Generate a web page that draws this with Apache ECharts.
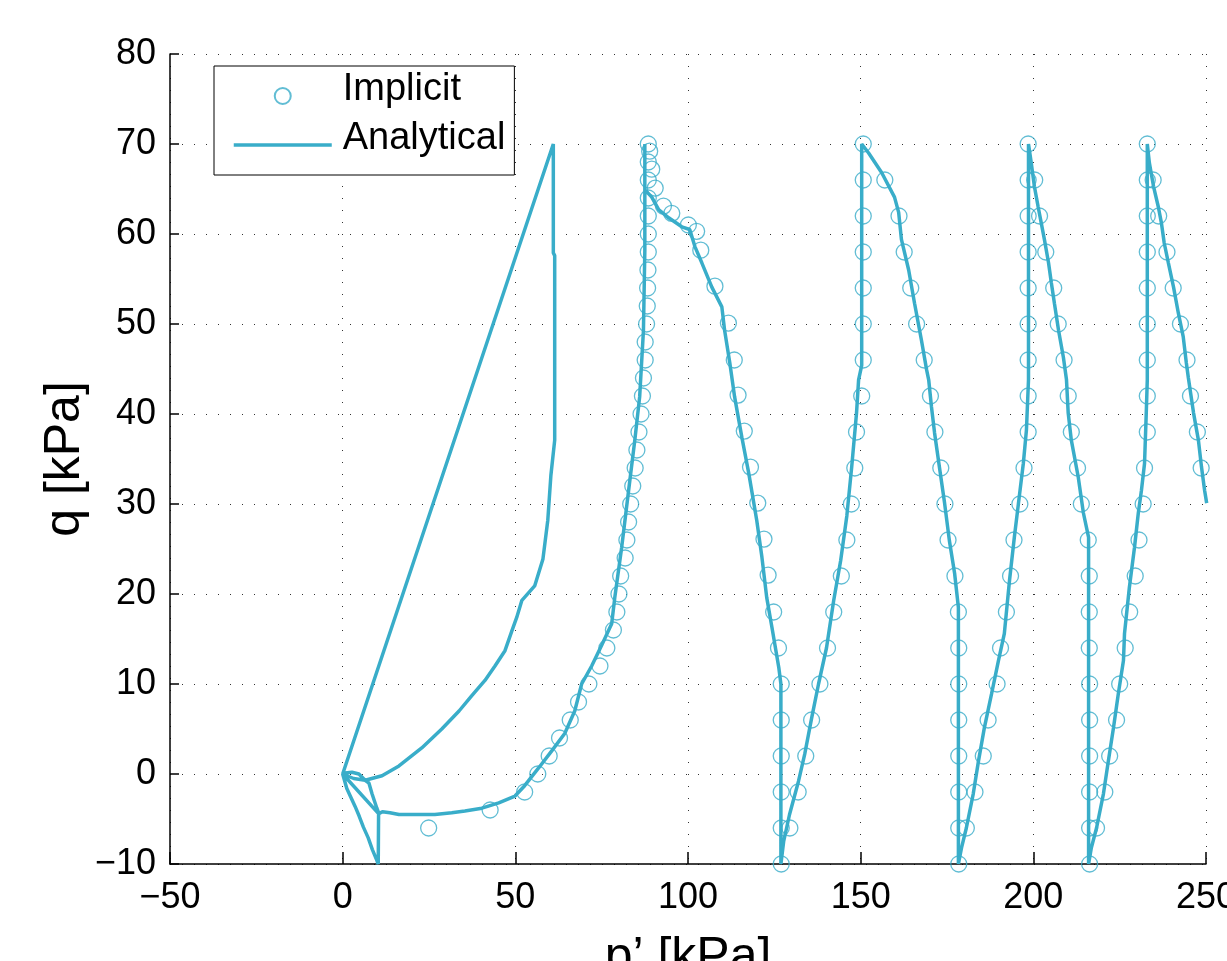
<!DOCTYPE html>
<html>
<head>
<meta charset="utf-8">
<script src="https://cdn.jsdelivr.net/npm/echarts@6/dist/echarts.min.js"></script>
<style>
html,body{margin:0;padding:0;background:#fff;}
#chart{width:1227px;height:961px;}
</style>
</head>
<body>
<div id="chart"></div>
<script>
// ---------- axis ticks ----------
const xTickValues = [-50, 0, 50, 100, 150, 200, 250];
const xTickLabels = ['\u221250', '0', '50', '100', '150', '200', '250'];
const yTickValues = [-10, 0, 10, 20, 30, 40, 50, 60, 70, 80];
const yTickLabels = ['\u221210', '0', '10', '20', '30', '40', '50', '60', '70', '80'];

// ---------- Analytical path (p', q) ----------
// first loading/unloading loop near origin
const anaP1 = [0, 61.0, 61.0, 61.4, 61.4, 60.3, 59.4, 58.0, 55.6, 51.9, 50.4, 49.0, 47.0, 44.1, 41.2, 37.4, 33.7, 28.7, 22.9, 16.3, 11.4, 6.5,
               4.7, 2.7, 0.7, 0,
               1.2, 2.4, 3.6, 4.8, 6.0, 7.4, 8.6, 9.9, 10.3,
               10.4, 10.4, 0, 3.2, 6.5, 7.6, 8.5, 9.9, 10.5];
const anaQ1 = [0, 70.0, 57.9, 57.6, 37.1, 33.2, 28.2, 23.9, 20.9, 19.3, 17.4, 15.9, 13.7, 12.0, 10.4, 8.7, 7.0, 5.0, 2.9, 0.9, -0.2, -0.7,
               0.0, 0.2, 0.1, 0,
               -1.6, -2.6, -3.6, -4.7, -5.9, -7.1, -8.4, -9.6, -10,
               -10, -4.4, 0, -0.5, -0.7, -1.0, -2.2, -3.8, -4.4];
// bottom curve and first ascent to 70
const anaP2 = [11.5, 13.7, 16.3, 26.7, 31.6, 35.4, 40.3, 45.2, 49.9, 52.7, 56.8, 60.6, 64.3, 67.2, 69.2, 72.1, 75.0, 77.9, 78.8, 80.8, 82.8, 84.6, 86.0, 87.1, 87.5, 87.5];
const anaQ2 = [-4.2, -4.3, -4.5, -4.5, -4.3, -4.1, -3.8, -3.2, -2.45, -1.3, 0.7, 2.6, 4.5, 7.0, 10.0, 12.0, 14.3, 16.7, 19.6, 25.2, 31.5, 37.1, 41.9, 49.3, 58.2, 70.0];
// descent to p'=127
const anaP3 = [87.5, 89.5, 91.5, 94.4, 98.2, 100.5, 102.0, 104.0, 106.9, 109.8, 110.6, 112.1, 113.5, 115.6, 117.6, 119.9, 121.4, 122.8, 124.3, 126.3, 126.9, 126.9];
const anaQ3 = [64.9, 64.1, 62.7, 61.8, 60.8, 60.5, 58.6, 56.8, 54.1, 51.9, 49.3, 45.7, 41.9, 37.4, 33.4, 28.2, 24.1, 19.6, 16.3, 11.8, 10.0, -10.0];
// ascent to p'=150
const anaP4 = [127.7, 129.4, 132.0, 133.8, 135.8, 137.8, 140.1, 142.2, 144.2, 146.0, 147.4, 148.8, 149.4, 150.3, 150.3];
const anaQ4 = [-7.5, -4.5, -0.8, 2.2, 6.2, 10.0, 14.0, 19.3, 23.7, 28.7, 34.1, 40.1, 43.8, 45.4, 70.0];
// descent to p'=178
const anaP5 = [152.3, 156.1, 159.8, 161.0, 161.8, 163.9, 165.6, 167.6, 169.1, 169.7, 170.5, 171.4, 172.8, 174.3, 175.7, 177.2, 178.3, 178.3];
const anaQ5 = [69.0, 66.8, 64.1, 62.4, 59.4, 56.0, 52.3, 48.2, 44.9, 43.8, 40.8, 37.9, 34.1, 30.1, 25.9, 22.3, 18.5, -10.0];
// ascent to p'=198.6
const anaP6 = [179.2, 180.6, 182.6, 184.1, 185.8, 187.9, 189.9, 191.6, 193.1, 194.5, 195.7, 197.1, 198.0, 198.6, 198.6];
const anaQ6 = [-8.2, -6.0, -2.2, 1.4, 5.1, 8.9, 12.6, 15.6, 21.5, 26.3, 30.1, 34.5, 38.2, 43.8, 70.0];
// descent to p'=216
const anaP7 = [199.4, 200.3, 201.4, 202.3, 203.2, 204.4, 205.2, 206.1, 207.3, 208.7, 209.6, 210.1, 211.0, 213.0, 214.5, 216.0, 216.0];
const anaQ7 = [67.9, 65.3, 63.0, 61.2, 59.4, 56.8, 54.6, 52.3, 49.3, 46.3, 43.8, 40.1, 37.1, 33.0, 29.0, 26.3, -10.0];
// ascent to p'=233
const anaP8 = [216.8, 218.3, 220.3, 221.7, 223.2, 224.6, 226.1, 226.4, 227.8, 229.3, 230.4, 231.3, 232.2, 232.7, 233.0, 233.0];
const anaQ8 = [-8.2, -6.0, -2.2, 1.4, 5.1, 8.9, 12.6, 15.6, 20.7, 25.2, 29.0, 31.5, 34.5, 40.1, 43.8, 70.0];
// final descent (leaves the axes)
const anaP9 = [233.6, 234.8, 236.2, 237.1, 237.9, 239.1, 240.6, 242.0, 243.4, 244.3, 244.9, 245.2, 246.4, 247.8, 248.7, 249.6, 250.2];
const anaQ9 = [67.9, 65.3, 63.0, 61.2, 59.0, 56.8, 54.1, 51.2, 48.6, 45.7, 44.0, 43.8, 40.1, 37.1, 34.1, 31.5, 30.1];

// ---------- Implicit points (p', q) ----------
const impP1 = [24.9, 42.7, 52.7, 56.5, 59.8, 62.8, 65.9, 68.3, 71.3, 74.5, 76.5, 78.4, 79.4, 80.0, 80.5, 81.8, 82.3, 82.8, 83.4, 84.0, 84.7, 85.2, 85.8, 86.4, 86.8, 87.1, 87.6, 87.6, 88.0, 88.2, 88.3, 88.4, 88.5, 88.5, 88.5, 88.5, 88.5, 88.5, 88.5];
const impQ1 = [-6, -4, -2, 0, 2, 4, 6, 8, 10, 12, 14, 16, 18, 20, 22, 24, 26, 28, 30, 32, 34, 36, 38, 40, 42, 44, 46, 48, 50, 52, 54, 56, 58, 60, 62, 64, 66, 68, 70];
const impP2 = [88.9, 89.5, 90.5, 92.9, 95.3, 100.1, 102.5, 103.7, 107.8, 111.7, 113.4, 114.5, 116.3, 118.1, 120.2, 122.0, 123.2, 124.8, 126.2, 127.0, 127.0, 127.0, 127.0, 127.0, 127.0];
const impQ2 = [69.2, 67.2, 65.1, 63.1, 62.3, 61.0, 60.3, 58.2, 54.2, 50.1, 46.0, 42.1, 38.1, 34.1, 30.1, 26.1, 22.1, 18.0, 14.0, 10, 6, 2, -2, -6, -10];
const impP3 = [129.5, 131.9, 134.1, 135.8, 138.2, 140.4, 142.2, 144.4, 146.0, 147.3, 148.3, 148.8, 150.3, 150.75, 150.75, 150.75, 150.75, 150.75, 150.75, 150.75];
const impQ3 = [-6, -2, 2, 6, 10, 14, 18, 22, 26, 30, 34, 38, 42, 46, 50, 54, 58, 62, 66, 70];
const impP4 = [157.0, 161.1, 162.6, 164.5, 166.2, 168.4, 170.2, 171.5, 173.2, 174.4, 175.3, 177.3, 178.3, 178.4, 178.4, 178.4, 178.4, 178.4, 178.4, 178.4];
const impQ4 = [66, 62, 58, 54, 50, 46, 42, 38, 34, 30, 26, 22, 18, 14, 10, 6, 2, -2, -6, -10];
const impP5 = [180.6, 183.1, 185.5, 186.9, 189.5, 190.5, 192.2, 193.4, 194.4, 196.1, 197.3, 198.5, 198.5, 198.5, 198.5, 198.5, 198.5, 198.5, 198.5, 198.5];
const impQ5 = [-6, -2, 2, 6, 10, 14, 18, 22, 26, 30, 34, 38, 42, 46, 50, 54, 58, 62, 66, 70];
const impP6 = [200.4, 201.8, 203.6, 205.9, 207.2, 208.9, 210.1, 211.0, 212.8, 213.9, 215.9, 216.2, 216.2, 216.2, 216.3, 216.3, 216.3, 216.3, 216.3, 216.3];
const impQ6 = [66, 62, 58, 54, 50, 46, 42, 38, 34, 30, 26, 22, 18, 14, 10, 6, 2, -2, -6, -10];
const impP7 = [218.3, 220.7, 222.1, 224.1, 225.0, 226.6, 227.9, 229.5, 230.6, 231.8, 232.2, 233.0, 233.0, 233.0, 233.0, 233.0, 233.0, 233.0, 233.0, 233.0];
const impQ7 = [-6, -2, 2, 6, 10, 14, 18, 22, 26, 30, 34, 38, 42, 46, 50, 54, 58, 62, 66, 70];
const impP8 = [234.7, 236.3, 238.7, 240.5, 242.6, 244.5, 245.5, 247.5, 248.6];
const impQ8 = [66, 62, 58, 54, 50, 46, 42, 38, 34];

// ---------- build ----------
function zip(p, q) { return p.map((v, i) => [v, q[i]]); }
const analyticalData = [].concat(
  zip(anaP1, anaQ1), zip(anaP2, anaQ2), zip(anaP3, anaQ3), zip(anaP4, anaQ4), zip(anaP5, anaQ5),
  zip(anaP6, anaQ6), zip(anaP7, anaQ7), zip(anaP8, anaQ8), zip(anaP9, anaQ9));
const implicitData = [].concat(
  zip(impP1, impQ1), zip(impP2, impQ2), zip(impP3, impQ3), zip(impP4, impQ4),
  zip(impP5, impQ5), zip(impP6, impQ6), zip(impP7, impQ7), zip(impP8, impQ8));

const COLOR = '#39adc9';
const FONT = "'Liberation Sans', Arial, Helvetica, sans-serif";
const gridDash = { color: '#333', width: 1, type: [1, 11] };

const chart = echarts.init(document.getElementById('chart'), null, { renderer: 'canvas' });
chart.setOption({
  animation: false,
  backgroundColor: '#fff',
  grid: { left: 170, right: 21, top: 54, bottom: 97, containLabel: false, outerBoundsMode: 'none' },
  legend: {
    orient: 'vertical',
    left: 214, top: 66,
    padding: [5, 9, 5, 18],
    itemGap: -1,
    itemWidth: 98, itemHeight: 16,
    backgroundColor: '#fff',
    borderColor: '#000', borderWidth: 1, borderRadius: 0,
    lineStyle: { width: 3.5 },
    formatter: name => '{t|' + name + '}',
    textStyle: {
      fontFamily: FONT, fontSize: 38, color: '#000', lineHeight: 38,
      rich: { t: { fontFamily: FONT, fontSize: 38, color: '#000', lineHeight: 38, padding: [0, 0, 12, 6] } }
    },
    data: ['Implicit', { name: 'Analytical', itemStyle: { opacity: 0 } }]
  },
  xAxis: {
    type: 'value', min: -50, max: 250, interval: 50,
    name: 'p\u2019 [kPa]', nameLocation: 'middle', nameGap: 69, nameMoveOverlap: false,
    nameTextStyle: { fontFamily: FONT, fontSize: 50, color: '#000' },
    axisLine: { show: true, onZero: false, lineStyle: { color: '#000', width: 1.5 } },
    axisTick: { show: true, inside: true, length: 12, lineStyle: { color: '#000', width: 1.5 } },
    axisLabel: {
      fontFamily: FONT, fontSize: 36, color: '#000', margin: 16,
      formatter: v => { const i = xTickValues.indexOf(v); return i >= 0 ? xTickLabels[i] : ''; }
    },
    splitLine: { show: true, lineStyle: gridDash }
  },
  yAxis: {
    type: 'value', min: -10, max: 80, interval: 10,
    name: 'q [kPa]', nameLocation: 'middle', nameGap: 80, nameRotate: 90, nameMoveOverlap: false,
    nameTextStyle: { fontFamily: FONT, fontSize: 50, color: '#000' },
    axisLine: { show: true, onZero: false, lineStyle: { color: '#000', width: 1.5 } },
    axisTick: { show: true, inside: true, length: 9, lineStyle: { color: '#000', width: 1.5 } },
    axisLabel: {
      fontFamily: FONT, fontSize: 36, color: '#000', margin: 14,
      formatter: v => { const i = yTickValues.indexOf(v); return i >= 0 ? yTickLabels[i] : ''; }
    },
    splitLine: { show: true, lineStyle: gridDash }
  },
  series: [
    {
      name: 'Implicit', type: 'scatter', data: implicitData,
      symbol: 'circle', symbolSize: 16, z: 3,
      itemStyle: { color: 'rgba(255,255,255,0)', borderColor: COLOR, borderWidth: 1.3 }
    },
    {
      name: 'Analytical', type: 'line', data: analyticalData,
      showSymbol: false, symbol: 'none', z: 2,
      lineStyle: { color: COLOR, width: 3.5 }, itemStyle: { color: COLOR }
    }
  ]
});
</script>
</body>
</html>
